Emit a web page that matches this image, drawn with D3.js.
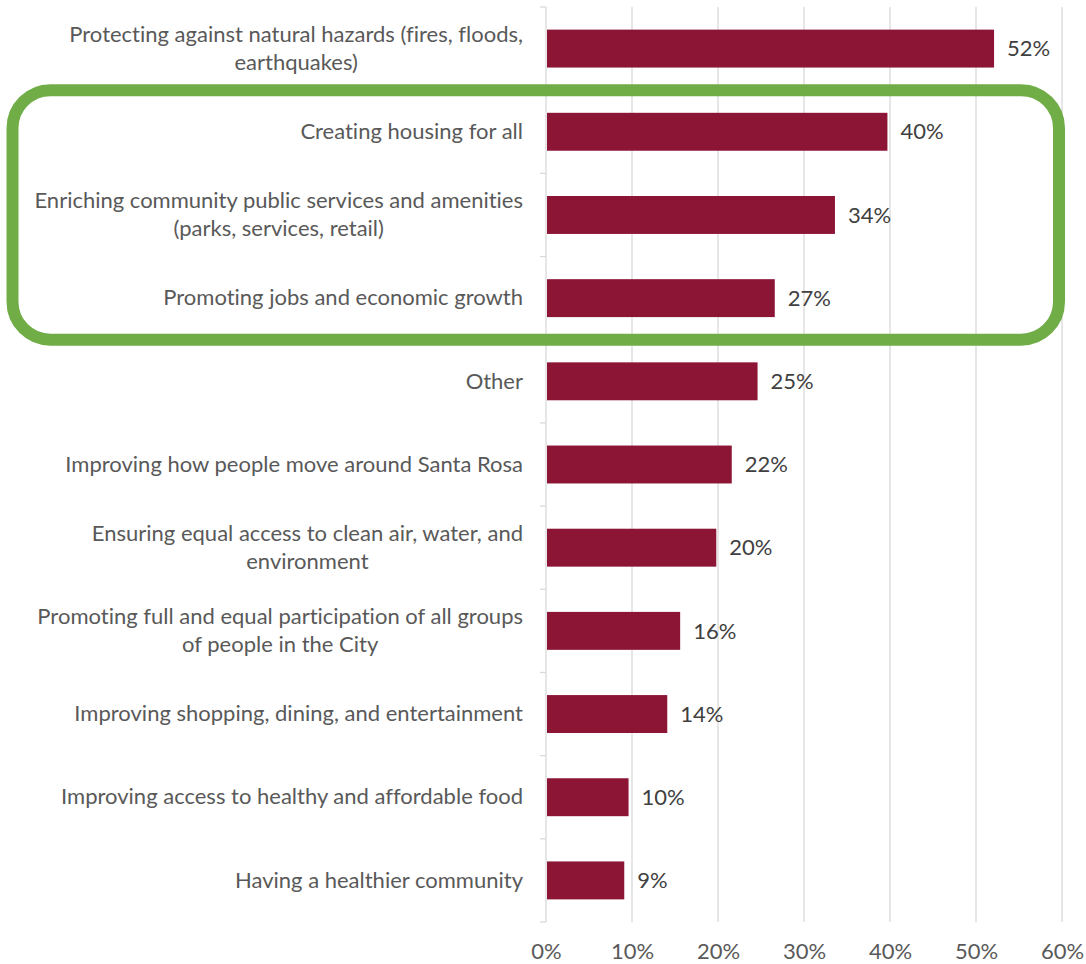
<!DOCTYPE html>
<html>
<head>
<meta charset="utf-8">
<script src="https://cdn.jsdelivr.net/npm/d3@7"></script>
<style>
  body { margin: 0; background: #fff; }
  svg { display: block; }
  text { font-variant-ligatures: none; }
</style>
</head>
<body>
<svg id="chart" width="1086" height="964"></svg>
<script>
// categories, one entry per bar, lines split as in the picture
var categories = [
  ["Protecting against natural hazards (fires, floods,", "earthquakes)"],
  ["Creating housing for all"],
  ["Enriching community public services and amenities", "(parks, services, retail)"],
  ["Promoting jobs and economic growth"],
  ["Other"],
  ["Improving how people move around Santa Rosa"],
  ["Ensuring equal access to clean air, water, and", "environment"],
  ["Promoting full and equal participation of all groups", "of people in the City"],
  ["Improving shopping, dining, and entertainment"],
  ["Improving access to healthy and affordable food"],
  ["Having a healthier community"]
];
// shares (labels show them rounded)
var shares = [0.521, 0.397, 0.336, 0.266, 0.246, 0.216, 0.198, 0.156, 0.141, 0.096, 0.091];
var xTicks = [0, 0.1, 0.2, 0.3, 0.4, 0.5, 0.6];
// rows that sit inside the green highlight box
var highlighted = [1, 3];

var FONT = "Lato, sans-serif";
var FSIZE = "22px";
var BAR = "#8c1536";
var GRID = "#d9d9d9";
var TEXT = "#595959";

var svg = d3.select("#chart");

var keys = categories.map(function(c, i) { return "c" + i; });
var data = keys.map(function(k, i) { return {key: k, lines: categories[i], value: shares[i]}; });

var x = d3.scaleLinear().domain([0, 0.6]).range([546, 1062]);
var y = d3.scaleBand().domain(keys).range([7, 922]).paddingInner(0.544).paddingOuter(0.272);

// vertical gridlines
svg.append("g").selectAll("line")
    .data(xTicks.slice(1))
    .enter().append("line")
    .attr("x1", function(d) { return x(d); })
    .attr("x2", function(d) { return x(d); })
    .attr("y1", 7)
    .attr("y2", 922)
    .style("stroke", GRID)
    .style("stroke-width", 1.3);

// x axis labels
var xAxis = svg.append("g")
    .attr("transform", "translate(0,922)")
    .call(d3.axisBottom(x).tickValues(xTicks).tickFormat(d3.format(".0%")).tickSize(0).tickPadding(21));
xAxis.select(".domain").remove();
xAxis.selectAll("text")
    .style("font-family", FONT)
    .style("font-size", FSIZE)
    .style("fill", TEXT);

// category axis line + ticks at band boundaries
var step = y.step();
var bounds = d3.range(keys.length + 1).map(function(i) { return y.range()[0] + i * step; });
svg.append("line")
    .attr("x1", x(0)).attr("x2", x(0))
    .attr("y1", 7).attr("y2", 922)
    .style("stroke", GRID).style("stroke-width", 1.3);
svg.append("g").selectAll("line")
    .data(bounds)
    .enter().append("line")
    .attr("x1", x(0) - 6).attr("x2", x(0))
    .attr("y1", function(d) { return d; })
    .attr("y2", function(d) { return d; })
    .style("stroke", GRID).style("stroke-width", 1.3);

// bars
svg.append("g").selectAll("rect")
    .data(data)
    .enter().append("rect")
    .attr("x", x(0) + 1)
    .attr("y", function(d) { return y(d.key); })
    .attr("width", function(d) { return x(d.value) - x(0) - 1; })
    .attr("height", y.bandwidth())
    .style("fill", BAR);

// value labels
svg.append("g").selectAll("text")
    .data(data)
    .enter().append("text")
    .attr("x", function(d) { return x(d.value) + 13; })
    .attr("y", function(d) { return y(d.key) + y.bandwidth() / 2; })
    .attr("dy", "0.35em")
    .style("font-family", FONT)
    .style("font-size", FSIZE)
    .style("fill", "#404040")
    .text(function(d) { return Math.round(d.value * 100) + "%"; });

// category labels: lines centred on each other, block right-aligned
var LINE_H = 27.5;
var labels = svg.append("g").selectAll("text")
    .data(data)
    .enter().append("text")
    .style("font-family", FONT)
    .style("font-size", FSIZE)
    .style("fill", TEXT)
    .attr("text-anchor", "middle");

labels.each(function(d) {
  var t = d3.select(this);
  var cy = y(d.key) + y.bandwidth() / 2 - 0.5;
  var n = d.lines.length;
  var spans = d.lines.map(function(line, j) {
    return t.append("tspan")
      .attr("y", cy + (j - (n - 1) / 2) * LINE_H)
      .attr("dy", "0.35em")
      .text(line);
  });
  var w = d3.max(spans, function(s) { return s.node().getComputedTextLength(); });
  spans.forEach(function(s) { s.attr("x", 523 - w / 2); });
});

// green highlight box around rows 2-4
var boxTop = y(keys[highlighted[0]]) - step * y.paddingInner() / 2;
var boxBottom = y(keys[highlighted[1]]) + y.bandwidth() + step * y.paddingInner() / 2;
svg.append("rect")
    .attr("x", 12.5)
    .attr("y", boxTop)
    .attr("width", 1059 - 12.5)
    .attr("height", boxBottom - boxTop)
    .attr("rx", 38)
    .style("fill", "none")
    .style("stroke", "#70ad47")
    .style("stroke-width", 12);
</script>
</body>
</html>
